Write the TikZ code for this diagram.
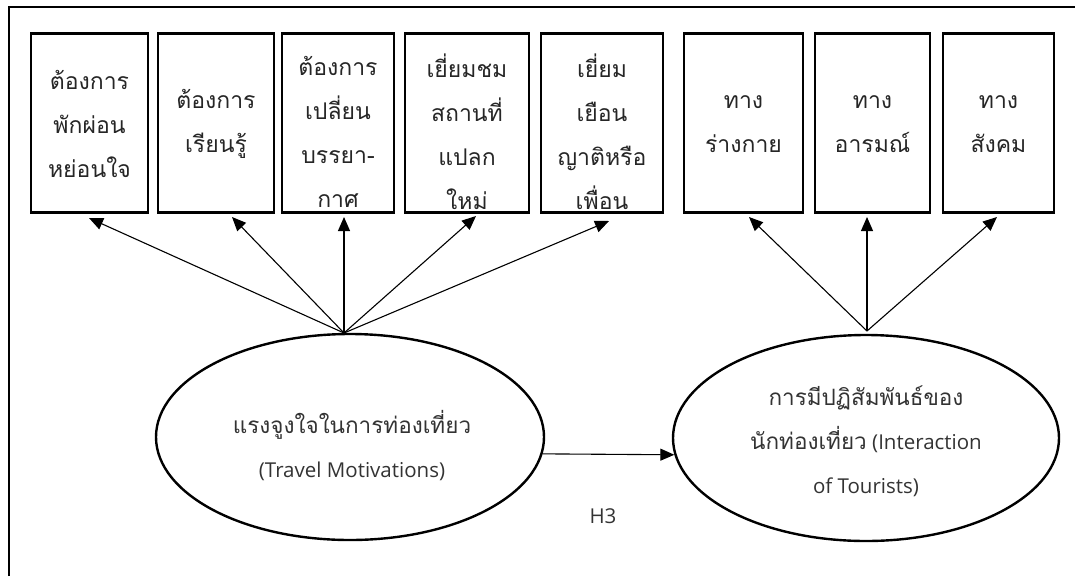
\documentclass[tikz,border=0pt]{standalone}
\usepackage{fontspec}
\setmainfont{Open Sans}
\newfontfamily\thai[Script=Thai]{Loma}
\usetikzlibrary{shapes.geometric,arrows.meta}
\begin{document}
\begin{tikzpicture}[x=1pt,y=-1pt,
  indbox/.style={draw,line width=2.2pt,minimum height=179pt,inner sep=0pt,minimum width=#1},
  boxtext/.style={align=center,text=black!85,font=\thai\fontsize{23}{44}\selectfont},
  latent/.style={ellipse,draw,line width=2.4pt,inner sep=0pt,minimum width=#1,minimum height=206pt},
  latenttext/.style={align=center,text=black!80,font=\fontsize{20.5}{44}\selectfont},
  thaiin/.style={font=\thai\fontsize{22.5}{44}\selectfont},
  path/.style={line width=1.1pt,-{Triangle[length=14pt,width=12pt]}}]
\useasboundingbox (0,0) rectangle (1075,576);
% frame
\draw[line width=2pt] (9,576) -- (9,7) -- (1075,7);
% indicator boxes
\node[indbox=117pt] (b1) at (89.5,123) {};
\node[indbox=116pt] (b2) at (216,123) {};
\node[indbox=112pt] (b3) at (338,123) {};
\node[indbox=124pt] (b4) at (467,123) {};
\node[indbox=122pt] (b5) at (602,123) {};
\node[indbox=119pt] (b6) at (743.5,123) {};
\node[indbox=115pt] (b7) at (872.5,123) {};
\node[indbox=111pt] (b8) at (998.5,123) {};
\node[boxtext] (t1) at (89.5,124) {ต้องการ\\พักผ่อน\\หย่อนใจ};
\node[boxtext] (t2) at (216,124) {ต้องการ\\เรียนรู้};
\node[boxtext] (t3) at (338,132) {ต้องการ\\เปลี่ยน\\บรรยา-\\กาศ};
\node[boxtext] (t4) at (467,132) {เยี่ยมชม\\สถานที่\\แปลก\\ใหม่};
\node[boxtext] (t5) at (602,132) {เยี่ยม\\เยือน\\ญาติหรือ\\เพื่อน};
\node[boxtext] (t6) at (743.5,124) {ทาง\\ร่างกาย};
\node[boxtext] (t7) at (872.5,124) {ทาง\\อารมณ์};
\node[boxtext] (t8) at (998.5,124) {ทาง\\สังคม};
% latent variables
\node[latent=388pt] (e1) at (350,437) {};
\node[latent=386pt] (e2) at (866,438) {};
\node[latenttext] (l1) at (352,446) {{\thai\fontsize{22.5}{44}\selectfont แรงจูงใจในการท่องเที่ยว}\\(Travel Motivations)};
\node[latenttext] (l2) at (866,441) {{\thai\fontsize{22.5}{44}\selectfont การมีปฏิสัมพันธ์ของ}\\{\thai\fontsize{22.5}{44}\selectfont นักท่องเที่ยว} (Interaction\\of Tourists)};
% arrow end points
\coordinate (c1) at (344,333);
\coordinate (c2) at (867,331);
\coordinate (p1) at (89,218);
\coordinate (p2) at (232,217);
\coordinate (p3) at (344,217);
\coordinate (p4) at (476,216);
\coordinate (p5) at (609,221);
\coordinate (p6) at (749,217);
\coordinate (p7) at (867,217);
\coordinate (p8) at (997,217);
\foreach \i in {1,...,5} \draw[path] (c1) -- (p\i);
\foreach \i in {6,7,8} \draw[path] (c2) -- (p\i);
% structural path
\draw[path] (e1.-5.4) -- (e2.185.4);
\node[text=black!80,font=\fontsize{20.5}{22}\selectfont] (h3) at (603,516) {H3};
\end{tikzpicture}
\end{document}
